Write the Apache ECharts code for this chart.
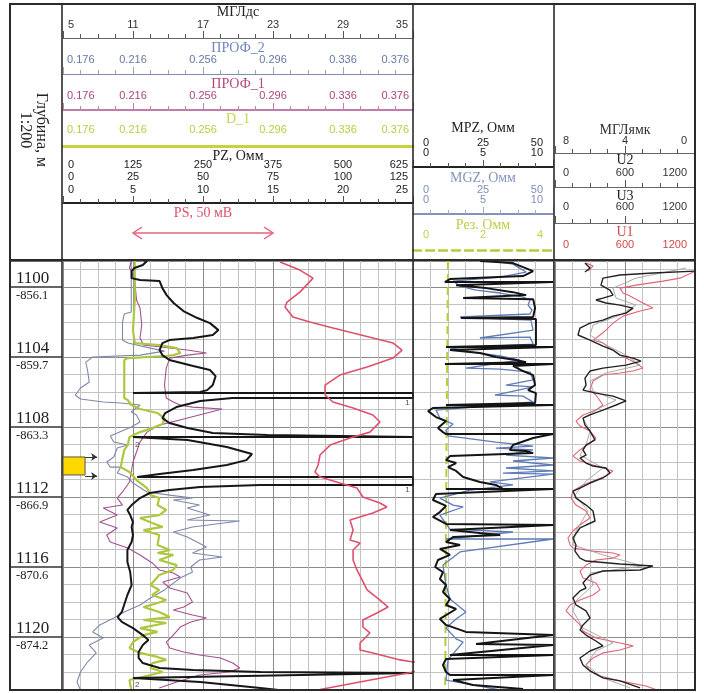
<!DOCTYPE html>
<html>
<head>
<meta charset="utf-8">
<script src="https://cdn.jsdelivr.net/npm/echarts@6/dist/echarts.min.js"></script>
<style>
html, body { margin: 0; padding: 0; background: #fff; }
#main { width: 704px; height: 693px; }
</style>
</head>
<body>
<div id="main"></div>
<script>
// глубины (м) и абсолютные отметки
var depthMin = 1098.51, depthMax = 1123.03;
var depthMarks = [1100, 1104, 1108, 1112, 1116, 1120];
var absMarks = ['-856.1', '-859.7', '-863.3', '-866.9', '-870.6', '-874.2'];

// подписи шкал в шапке
var mglLabels = ['5', '11', '17', '23', '29', '35'];
var profLabels = ['0.176', '0.216', '0.256', '0.296', '0.336', '0.376'];
var pzLabels = ['0\n0\n0', '125\n25\n5', '250\n50\n10', '375\n75\n15', '500\n100\n20', '625\n125\n25'];
var mpzLabels = ['0\n0', '25\n5', '50\n10'];
var rezLabels = ['0', '2', '4'];
var mglyLabels = ['8', '4', '0'];
var uLabels = ['0', '600', '1200'];

// интервал перфорации, м
var perfTop = 1109.71, perfBottom = 1110.74, perfArrowLow = 1110.8;
// масштабная стрелка PS, мВ
var psBarMv = [25, 75];
// номера шкал PZ
var wrapMarks = [[24.6, 1106.6, '1'], [5.3, 1109.03, '2'], [24.6, 1111.6, '1'], [5.3, 1122.74, '2']];

// PZ, Омм (шкала 0-25) [значение, глубина]
var pzCurve = [[5.4,1098.4],[6.0,1098.51],[5.7,1098.74],[5.1,1098.91],[4.9,1099.09],[4.9,1099.49],[5.5,1099.6],[6.9,1099.66],[7.1,1100.06],[7.4,1100.46],[7.9,1100.91],[8.6,1101.37],[9.6,1101.77],[10.5,1102.06],[11.1,1102.46],[10.7,1102.74],[9.3,1102.91],[7.6,1103.03],[7.1,1103.2],[6.9,1103.6],[7.1,1103.89],[7.6,1104.17],[9.3,1104.51],[10.5,1104.74],[10.9,1105.09],[10.7,1105.6],[10.3,1105.89],[9.8,1106.0],[5.0,1106.06],[25,1106.06],[25,1106.34],[12.1,1106.34],[9.8,1106.51],[8.1,1106.86],[7.3,1107.2],[7.1,1107.49],[7.6,1107.77],[8.9,1108.06],[10.7,1108.34],[14.6,1108.46],[25,1108.57],[5.0,1108.57],[8.9,1108.74],[11.7,1109.14],[13.5,1109.54],[13.1,1109.89],[11.7,1110.17],[9.3,1110.46],[6.9,1110.69],[5.3,1110.86],[25,1110.86],[25,1111.31],[14.1,1111.31],[9.8,1111.43],[7.6,1111.6],[6.2,1111.77],[5.5,1112.06],[4.9,1112.46],[4.6,1112.74],[4.8,1113.03],[5.0,1113.43],[4.9,1113.71],[5.0,1114.17],[4.9,1114.57],[4.6,1115.03],[4.6,1115.71],[4.8,1116.29],[4.9,1117.03],[4.6,1117.6],[4.2,1118.57],[3.9,1118.86],[4.2,1119.14],[5.0,1119.49],[5.7,1119.89],[6.1,1120.17],[5.7,1120.46],[5.4,1120.86],[5.4,1121.2],[5.7,1121.49],[6.9,1121.77],[9.3,1121.89],[14.1,1122.0],[25,1122.06],[5.0,1122.34],[9.8,1122.57],[14.1,1122.91],[16.2,1123.1]];

// PS, мВ
var psCurve = [[77.5,1098.57],[84.6,1099.03],[89.3,1099.49],[84.6,1100.29],[80.0,1100.86],[79.3,1101.14],[82.1,1101.71],[88.2,1102.0],[96.4,1102.34],[103.6,1102.63],[110.7,1102.91],[117.9,1103.2],[121.1,1103.6],[117.9,1104.06],[108.6,1104.57],[98.9,1105.03],[93.6,1105.6],[93.6,1106.17],[96.4,1106.57],[103.6,1106.91],[110.7,1107.31],[113.2,1107.71],[109.6,1108.29],[102.5,1108.63],[95.4,1109.03],[91.8,1109.6],[91.1,1110.17],[90.0,1110.57],[91.8,1110.86],[98.9,1111.2],[105.0,1111.49],[107.1,1112.0],[113.2,1112.34],[115.7,1112.57],[110.7,1112.91],[102.5,1113.31],[103.6,1113.89],[102.5,1114.46],[106.1,1114.63],[103.6,1115.03],[103.6,1115.6],[105.0,1116.17],[106.8,1116.74],[108.6,1117.31],[113.2,1117.89],[116.1,1118.29],[112.1,1118.63],[107.1,1119.03],[107.1,1119.43],[109.6,1119.77],[106.1,1120.34],[106.1,1120.74],[110.7,1120.91],[120.4,1121.31],[132.1,1121.6],[125.0,1122.0],[91.8,1123.0]];

// D_1
var d1Curve = [[0.217,1098.51],[0.217,1100.74],[0.216,1102.46],[0.217,1103.2],[0.231,1103.31],[0.241,1103.49],[0.243,1103.77],[0.239,1103.89],[0.235,1103.94],[0.213,1104.06],[0.211,1104.17],[0.211,1106.34],[0.213,1106.46],[0.215,1106.74],[0.220,1106.97],[0.230,1107.2],[0.234,1107.49],[0.233,1107.83],[0.227,1108.06],[0.220,1108.29],[0.214,1108.57],[0.213,1109.03],[0.211,1109.31],[0.210,1109.77],[0.209,1110.29],[0.214,1110.57],[0.218,1111.03],[0.224,1111.49],[0.226,1111.89],[0.231,1112.06],[0.230,1112.46],[0.235,1112.74],[0.231,1113.03],[0.220,1113.2],[0.227,1113.49],[0.233,1113.71],[0.222,1113.89],[0.231,1114.17],[0.230,1114.74],[0.237,1115.03],[0.230,1115.2],[0.239,1115.31],[0.231,1115.6],[0.241,1115.89],[0.239,1116.17],[0.231,1116.46],[0.226,1117.03],[0.231,1117.31],[0.227,1117.6],[0.235,1117.89],[0.230,1118.06],[0.222,1118.29],[0.231,1118.57],[0.237,1118.86],[0.222,1119.03],[0.235,1119.2],[0.220,1119.49],[0.230,1119.71],[0.222,1119.89],[0.216,1120.29],[0.214,1120.63],[0.220,1120.91],[0.230,1121.14],[0.235,1121.31],[0.227,1121.49],[0.226,1121.77],[0.233,1122.0],[0.226,1122.17],[0.214,1122.46],[0.215,1123.03]];

// ПРОФ_2
var prof2Curve = [[0.215,1098.51],[0.215,1100.17],[0.215,1101.43],[0.211,1101.54],[0.210,1102.0],[0.210,1103.03],[0.213,1103.2],[0.226,1103.49],[0.234,1103.66],[0.220,1103.89],[0.193,1104.0],[0.189,1104.29],[0.190,1104.74],[0.191,1105.43],[0.186,1105.77],[0.183,1106.17],[0.186,1106.4],[0.199,1106.57],[0.209,1106.63],[0.220,1106.74],[0.215,1107.14],[0.218,1107.31],[0.220,1107.71],[0.215,1108.0],[0.207,1108.34],[0.203,1108.51],[0.205,1108.86],[0.213,1109.03],[0.207,1109.2],[0.205,1109.71],[0.201,1110.0],[0.203,1110.29],[0.209,1110.29],[0.207,1110.63],[0.213,1110.86],[0.216,1111.2],[0.224,1111.71],[0.237,1111.89],[0.250,1112.06],[0.239,1112.17],[0.254,1112.46],[0.247,1112.63],[0.260,1113.03],[0.247,1113.31],[0.277,1113.37],[0.250,1113.71],[0.239,1114.0],[0.247,1114.29],[0.258,1114.86],[0.250,1115.2],[0.267,1115.43],[0.254,1115.6],[0.249,1116.0],[0.250,1116.29],[0.243,1116.63],[0.234,1117.31],[0.226,1117.77],[0.220,1118.17],[0.211,1118.57],[0.205,1118.91],[0.197,1119.31],[0.193,1119.71],[0.199,1120.06],[0.191,1120.46],[0.195,1120.91],[0.190,1121.43],[0.186,1122.0],[0.184,1122.57],[0.186,1123.03]];

// ПРОФ_1
var prof1Curve = [[0.215,1098.51],[0.214,1098.91],[0.215,1099.09],[0.217,1099.6],[0.218,1100.74],[0.220,1101.2],[0.221,1102.17],[0.220,1102.91],[0.222,1103.31],[0.247,1103.6],[0.258,1103.77],[0.247,1103.89],[0.237,1104.06],[0.235,1104.63],[0.234,1105.6],[0.235,1106.34],[0.239,1106.57],[0.243,1106.74],[0.250,1106.86],[0.267,1106.97],[0.256,1107.26],[0.245,1107.54],[0.231,1107.89],[0.224,1108.29],[0.220,1108.86],[0.218,1109.43],[0.216,1110.0],[0.215,1110.57],[0.214,1111.14],[0.210,1111.71],[0.207,1112.06],[0.210,1112.46],[0.199,1112.63],[0.207,1113.03],[0.197,1113.43],[0.207,1113.77],[0.201,1114.17],[0.203,1114.57],[0.213,1114.91],[0.220,1115.31],[0.227,1115.77],[0.231,1116.17],[0.239,1116.34],[0.243,1116.57],[0.233,1116.86],[0.237,1117.2],[0.247,1117.49],[0.250,1118.0],[0.245,1118.29],[0.239,1118.46],[0.250,1118.74],[0.258,1118.91],[0.249,1119.14],[0.243,1119.43],[0.239,1119.89],[0.235,1120.29],[0.237,1120.63],[0.245,1120.86],[0.254,1121.03],[0.266,1121.2],[0.273,1121.49],[0.277,1121.77],[0.271,1122.0],[0.254,1122.17],[0.241,1122.57],[0.231,1122.91]];

// MPZ, Омм (шкала 0-50)
var mpzCurve = [[23.9,1098.51],[35.7,1098.63],[42.9,1099.09],[39.3,1099.37],[13.2,1099.54],[11.4,1099.71],[50,1099.71],[15.4,1099.89],[26.1,1100.06],[35.7,1100.29],[40.4,1100.46],[17.9,1100.63],[42.9,1100.69],[43.6,1101.2],[42.9,1101.71],[17.1,1101.77],[43.9,1101.83],[43.9,1103.31],[11.8,1103.43],[50,1103.43],[13.2,1103.6],[23.9,1103.77],[29.6,1104.0],[36.8,1104.17],[40.4,1104.29],[11.4,1104.4],[50,1104.4],[35.7,1104.51],[39.3,1104.8],[42.9,1105.03],[43.6,1105.6],[41.1,1105.89],[43.9,1106.06],[43.6,1106.63],[11.8,1106.74],[50,1106.74],[7.1,1106.91],[5.4,1107.09],[8.2,1107.43],[11.8,1107.66],[8.9,1108.06],[10.7,1108.29],[11.8,1108.4],[50,1108.4],[42.9,1108.63],[35.7,1109.03],[34.6,1109.31],[40.4,1109.37],[42.9,1109.49],[13.2,1109.66],[11.8,1109.89],[15.4,1110.06],[12.5,1110.29],[15.4,1110.51],[17.9,1110.86],[23.9,1111.14],[29.6,1111.31],[32.1,1111.54],[11.8,1111.54],[50,1111.54],[8.2,1111.83],[7.1,1112.17],[11.8,1112.51],[9.6,1112.86],[7.1,1113.14],[11.8,1113.54],[50,1113.6],[13.2,1113.89],[23.9,1114.06],[31.1,1114.17],[14.3,1114.29],[11.8,1114.57],[16.8,1114.74],[9.6,1114.97],[13.2,1115.31],[8.9,1115.6],[7.9,1116.0],[10.7,1116.29],[9.6,1116.69],[11.8,1117.03],[10.7,1117.43],[13.2,1117.83],[11.8,1118.17],[15.4,1118.4],[9.6,1118.97],[11.8,1119.31],[18.9,1119.71],[50,1119.89],[22.5,1120.4],[50,1120.46],[13.2,1121.03],[50,1121.03],[11.8,1121.26],[10.7,1121.6],[11.8,1122.0],[13.2,1122.17],[50,1122.17],[14.3,1122.46],[21.4,1122.74],[39.3,1122.97]];

// MGZ, Омм (шкала 0-50)
var mgzCurve = [[28.6,1098.51],[35.7,1098.69],[40.4,1099.14],[31.1,1099.43],[14.3,1099.66],[16.8,1099.94],[22.5,1100.17],[31.1,1100.34],[39.3,1100.57],[41.8,1100.74],[41.1,1101.03],[42.5,1101.31],[41.8,1101.54],[16.8,1101.71],[42.1,1101.89],[42.9,1102.46],[23.9,1102.91],[41.8,1102.86],[42.9,1103.26],[13.2,1103.49],[20.4,1103.71],[31.1,1103.94],[38.2,1104.17],[18.9,1104.63],[31.1,1104.69],[41.8,1104.86],[42.9,1105.31],[33.2,1105.6],[42.9,1105.71],[29.3,1106.17],[39.3,1106.23],[42.9,1106.57],[8.2,1107.03],[9.6,1107.49],[14.3,1107.83],[11.8,1108.17],[12.5,1108.51],[29.6,1108.86],[42.9,1109.09],[29.6,1109.2],[42.9,1109.31],[33.2,1109.6],[50,1109.77],[35.7,1109.94],[50,1110.17],[33.2,1110.34],[50,1110.51],[32.1,1110.63],[50,1110.69],[27.5,1111.14],[35.7,1111.31],[20.4,1111.6],[9.6,1112.06],[14.3,1112.46],[17.9,1112.57],[9.6,1113.03],[13.2,1113.83],[35.7,1114.0],[11.8,1114.4],[50,1114.4],[16.8,1115.14],[10.7,1115.89],[11.8,1117.03],[13.2,1117.83],[18.9,1118.57],[15.4,1118.97],[11.8,1119.49],[15.4,1120.11],[17.9,1120.29],[12.5,1121.31],[11.8,1122.46],[21.4,1122.74],[31.1,1123.03]];

// Рез., Омм
var rezCurve = [[1.0,1098.51],[0.97,1106.0],[0.94,1114.0],[0.92,1123.03]];

// U2, U1, U3 (0-1200)
var u2Top = [[257,1098.63],[300,1098.91],[257,1099.14]];
var u1Top = [[266,1098.63],[326,1098.8],[283,1099.09]];
var u2Curve = [[1200,1099.09],[840,1099.2],[557,1099.31],[411,1099.49],[394,1099.89],[471,1100.17],[497,1100.46],[411,1100.63],[351,1100.74],[437,1100.91],[557,1101.03],[669,1101.2],[609,1101.49],[497,1101.66],[411,1101.89],[300,1102.06],[214,1102.34],[197,1102.74],[300,1103.03],[411,1103.37],[497,1103.6],[557,1103.89],[669,1104.06],[737,1104.23],[609,1104.46],[411,1104.63],[300,1104.8],[257,1105.2],[266,1105.6],[240,1105.89],[351,1106.06],[497,1106.23],[609,1106.51],[523,1106.74],[411,1107.03],[300,1107.31],[240,1107.49],[257,1107.89],[300,1108.23],[343,1108.74],[266,1109.03],[240,1109.31],[266,1109.6],[214,1109.77],[266,1110.06],[326,1110.23],[437,1110.34],[471,1110.63],[411,1110.91],[300,1111.2],[214,1111.49],[154,1111.66],[180,1112.06],[266,1112.46],[326,1112.8],[343,1113.37],[266,1113.6],[214,1113.77],[154,1114.34],[180,1114.74],[171,1115.09],[214,1115.49],[266,1115.66],[557,1115.83],[840,1115.94],[729,1116.17],[411,1116.23],[300,1116.46],[240,1116.91],[266,1117.2],[214,1117.37],[154,1117.77],[180,1118.17],[266,1118.51],[300,1118.91],[240,1119.31],[214,1119.6],[266,1119.89],[351,1120.23],[411,1120.51],[300,1120.8],[214,1121.2],[240,1121.6],[300,1121.94],[411,1122.34],[557,1122.51],[729,1122.91]];
var u1Curve = [[1200,1099.09],[1071,1099.49],[926,1099.66],[694,1099.89],[557,1100.06],[583,1100.34],[643,1100.51],[754,1100.91],[840,1101.2],[729,1101.37],[583,1101.66],[497,1102.06],[437,1102.46],[386,1102.74],[326,1103.03],[411,1103.2],[471,1103.49],[557,1103.89],[609,1104.06],[694,1104.34],[754,1104.63],[669,1104.8],[557,1104.91],[411,1105.03],[326,1105.37],[300,1105.89],[351,1106.17],[411,1106.74],[351,1107.03],[240,1107.31],[180,1107.66],[214,1107.94],[300,1108.23],[351,1108.63],[300,1108.91],[214,1109.31],[154,1109.66],[214,1109.94],[326,1110.17],[497,1110.51],[437,1110.8],[351,1111.03],[240,1111.31],[154,1111.66],[137,1112.06],[180,1112.46],[266,1112.8],[300,1113.2],[214,1113.6],[154,1113.94],[111,1114.34],[129,1114.74],[154,1114.91],[326,1115.09],[497,1115.2],[557,1115.31],[497,1115.49],[351,1115.6],[266,1115.89],[214,1116.23],[240,1116.63],[351,1116.91],[386,1117.31],[326,1117.6],[214,1117.89],[129,1118.17],[94,1118.51],[154,1118.91],[214,1119.31],[240,1119.66],[351,1120.06],[557,1120.34],[669,1120.51],[557,1120.74],[411,1120.91],[326,1121.2],[266,1121.6],[300,1121.94],[386,1122.23],[557,1122.51],[780,1122.8],[900,1123.09]];
var u3Curve = [[1123,1098.91],[694,1099.49],[497,1100.06],[523,1100.63],[694,1101.03],[557,1101.6],[326,1102.17],[300,1102.74],[437,1103.31],[609,1103.89],[729,1104.46],[437,1104.91],[300,1105.37],[326,1105.94],[523,1106.46],[386,1106.91],[240,1107.49],[300,1108.23],[266,1109.03],[214,1109.6],[411,1110.34],[266,1111.09],[171,1111.89],[283,1112.8],[180,1113.94],[154,1114.74],[411,1115.31],[754,1115.94],[300,1116.34],[326,1117.03],[180,1117.94],[154,1118.51],[240,1119.49],[497,1120.34],[351,1120.8],[266,1121.6],[411,1122.34],[643,1122.91]];

var fontSans = '"Liberation Sans", Arial, sans-serif';
var fontSerif = '"Liberation Serif", "Times New Roman", serif';

var T = 261, H = 429;
var TR1 = { left: 63, width: 350 };
var TR2 = { left: 413, width: 140 };
var TR3 = { left: 555, width: 140 };

var grid = [], xAxis = [], yAxis = [], series = [];
function addGrid(g) { grid.push(g); return grid.length - 1; }
function addX(o) { xAxis.push(o); return xAxis.length - 1; }
function addY(o) { yAxis.push(o); return yAxis.length - 1; }
function hiddenX(g, min, max) { return { gridIndex: g, type: 'value', min: min, max: max, show: false }; }

// колонка глубин
var gD = addGrid({ left: 10, top: T, width: 52, height: H });
addX(hiddenX(gD, 0, 1));
addY({
    gridIndex: gD, type: 'value', inverse: true, min: depthMin, max: depthMax, minInterval: 4, maxInterval: 4,
    axisLine: { show: false }, axisTick: { show: false },
    splitLine: { show: true, lineStyle: { color: '#333', width: 1.5 } },
    axisLabel: {
        inside: true, margin: 6, align: 'left',
        formatter: function (v) {
            for (var i = 0; i < depthMarks.length; i++) {
                if (Math.abs(v - depthMarks[i]) < 0.01) return '{md|' + depthMarks[i] + '}\n{ab|' + absMarks[i] + '}';
            }
            return '';
        },
        rich: {
            md: { fontFamily: fontSerif, fontSize: 17, lineHeight: 17, color: '#222' },
            ab: { fontFamily: fontSerif, fontSize: 12.5, lineHeight: 17, color: '#222' }
        }
    }
});

// дорожка с сеткой
function dataTrack(tr, nDiv) {
    var g = addGrid({ left: tr.left, top: T, width: tr.width, height: H });
    var noAxis = { axisLine: { show: false }, axisTick: { show: false }, axisLabel: { show: false } };
    var xa = addX(Object.assign({ gridIndex: g, type: 'value', min: 0, max: nDiv, interval: 1,
        splitLine: { show: true, lineStyle: { color: '#c2c2c2', width: 1 } } }, noAxis));
    addX(Object.assign({ gridIndex: g, type: 'value', min: 0, max: nDiv, interval: 4,
        splitLine: { show: true, lineStyle: { color: '#8a8a8a', width: 1 } } }, noAxis));
    var ya = addY(Object.assign({ gridIndex: g, type: 'value', inverse: true, min: depthMin, max: depthMax, minInterval: 1, maxInterval: 1,
        splitLine: { show: true, lineStyle: { color: '#c2c2c2', width: 1 } } }, noAxis));
    addY(Object.assign({ gridIndex: g, type: 'value', inverse: true, min: depthMin, max: depthMax, minInterval: 4, maxInterval: 4,
        splitLine: { show: true, lineStyle: { color: '#8a8a8a', width: 1 } } }, noAxis));
    return { g: g, xa: xa, ya: ya };
}

function curve(data, xi, yi, color, width, extra) {
    var s = { type: 'line', data: data, xAxisIndex: xi, yAxisIndex: yi, symbol: 'none', silent: true, z: 3,
        lineStyle: { color: color, width: width } };
    series.push(Object.assign(s, extra || {}));
}

// шкала в шапке
function headerScale(tr, lineY, labels, o) {
    var g = addGrid({ left: tr.left, width: tr.width, top: lineY - 10, height: 10 });
    addY({ gridIndex: g, type: 'value', min: 0, max: 1, show: false });
    var tc = o.tickColor || '#555';
    var last = labels.length - 1;
    var inset = o.inset || 0;
    addX({
        gridIndex: g, type: 'value', position: 'bottom', min: 0, max: last, interval: 1,
        axisLine: { show: o.line !== false, lineStyle: { color: o.lineColor || '#555', width: o.lineWidth || 1, type: o.lineType || 'solid' } },
        axisTick: { show: o.ticks !== false, inside: true, length: 7, lineStyle: { color: tc } },
        minorTick: { show: o.ticks !== false, splitNumber: 4, length: 4, lineStyle: { color: tc } },
        splitLine: { show: false },
        axisLabel: {
            inside: true, margin: o.margin || 7, color: o.labelColor || '#222',
            fontFamily: fontSans, fontSize: 11, lineHeight: o.lh || 12,
            alignMinLabel: 'left', alignMaxLabel: 'right', showMinLabel: true, showMaxLabel: true,
            formatter: function (v) {
                var i = Math.round(v);
                var parts = (labels[i] || '').split('\n');
                var st = i === 0 ? 'l' : (i === last ? 'r' : 'c');
                return parts.map(function (p) { return '{' + st + '|' + p + '}'; }).join('\n');
            },
            rich: {
                l: { padding: [0, 0, 0, inset], lineHeight: o.lh || 12 },
                r: { padding: [0, inset, 0, 0], lineHeight: o.lh || 12 },
                c: { lineHeight: o.lh || 12 }
            }
        }
    });
}

// дорожка 1
var t1 = dataTrack(TR1, 20);
var x1pz = addX(hiddenX(t1.g, 0, 25));
var x1ps = addX(hiddenX(t1.g, 0, 125));
var x1prof = addX(hiddenX(t1.g, 0.176, 0.376));

curve(prof2Curve, x1prof, t1.ya, '#7e88aa', 1.1);
curve(prof1Curve, x1prof, t1.ya, '#a5508e', 1.1);
curve(d1Curve, x1prof, t1.ya, '#acc83c', 2.2);
curve(pzCurve, x1pz, t1.ya, '#161616', 2);
curve(psCurve, x1ps, t1.ya, '#e0506c', 1.6, { clip: false });

series.push({
    type: 'line', xAxisIndex: t1.xa, yAxisIndex: t1.ya, data: [[0, perfTop]], symbol: 'none', silent: true, z: 6,
    markArea: { silent: true, itemStyle: { color: '#ffd800', borderColor: '#555', borderWidth: 1 },
        data: [[{ coord: [0, perfTop] }, { coord: [1.26, perfBottom] }]] },
    markLine: { silent: true, symbol: ['none', 'arrow'], symbolSize: 6, label: { show: false },
        lineStyle: { color: '#333', width: 1, type: 'solid' },
        data: [[{ coord: [1.26, perfTop] }, { coord: [1.95, perfTop] }],
               [{ coord: [1.26, perfArrowLow] }, { coord: [1.95, perfArrowLow] }]] }
});

series.push({
    type: 'scatter', xAxisIndex: x1pz, yAxisIndex: t1.ya, symbolSize: 1, silent: true, z: 6,
    itemStyle: { color: 'rgba(0,0,0,0)' },
    data: wrapMarks.map(function (m) { return { name: m[2], value: [m[0], m[1]] }; }),
    label: { show: true, position: 'inside', formatter: '{b}', fontSize: 8, color: '#222', fontFamily: fontSans }
});

// дорожка 2
var t2 = dataTrack(TR2, 8);
var x2mpz = addX(hiddenX(t2.g, 0, 50));
var x2rez = addX(hiddenX(t2.g, 0, 4));
curve(rezCurve, x2rez, t2.ya, '#b5cf3a', 2, { lineStyle: { color: '#b5cf3a', width: 2, type: [8, 5] } });
curve(mgzCurve, x2mpz, t2.ya, '#5d7cb8', 1.3);
curve(mpzCurve, x2mpz, t2.ya, '#141414', 2);

// дорожка 3
var t3 = dataTrack(TR3, 8);
var x3u = addX(hiddenX(t3.g, 0, 1200));
curve(u1Curve, x3u, t3.ya, '#e26474', 1.1);
curve(u1Top, x3u, t3.ya, '#e26474', 1.1);
curve(u3Curve, x3u, t3.ya, '#a0a0a0', 0.9);
curve(u2Curve, x3u, t3.ya, '#222', 1.4);
curve(u2Top, x3u, t3.ya, '#222', 1.4);

// шапка
headerScale(TR1, 38, mglLabels, { lineColor: '#666', labelColor: '#333', margin: 7, inset: 5 });
headerScale(TR1, 74, profLabels, { lineColor: '#7f8db0', labelColor: '#6577a3', tickColor: '#9aa4c0', margin: 8, inset: 4 });
headerScale(TR1, 110, profLabels, { lineColor: '#b0508c', labelColor: '#a8467c', tickColor: '#c080a8', lineWidth: 1.5, margin: 8, inset: 4 });
headerScale(TR1, 146, profLabels, { lineColor: '#c4d43a', labelColor: '#bccb45', lineWidth: 3, ticks: false, margin: 10, inset: 4 });
headerScale(TR1, 203, pzLabels, { lineColor: '#222', lineWidth: 2, labelColor: '#222', margin: 7, lh: 12.5, inset: 5 });
headerScale(TR2, 167, mpzLabels, { lineColor: '#222', lineWidth: 2, labelColor: '#222', margin: 9, lh: 10, inset: 10 });
headerScale(TR2, 214, mpzLabels, { lineColor: '#5b70a8', lineWidth: 1.5, labelColor: '#7d8fb6', tickColor: '#a0aac8', margin: 9, lh: 10, inset: 10 });
headerScale(TR2, 250, rezLabels, { lineColor: '#b8cc3a', lineWidth: 2.5, lineType: [8, 5], labelColor: '#c0d050', ticks: false, margin: 9, inset: 10 });
headerScale(TR3, 153, mglyLabels, { lineColor: '#666', labelColor: '#333', margin: 6, inset: 8 });
headerScale(TR3, 187, uLabels, { lineColor: '#666', labelColor: '#333', margin: 8, inset: 8 });
headerScale(TR3, 223, uLabels, { lineColor: '#666', labelColor: '#333', margin: 10, inset: 8 });
headerScale(TR3, 259, uLabels, { line: false, ticks: false, labelColor: '#d04848', margin: 8, inset: 8 });

var chart = echarts.init(document.getElementById('main'));
chart.setOption({
    animation: false,
    backgroundColor: '#fff',
    textStyle: { fontFamily: fontSans },
    grid: grid, xAxis: xAxis, yAxis: yAxis, series: series
});

function txt(x, y, t, color, size) {
    return { type: 'text', x: x, y: y, z: 20, silent: true,
        style: { text: t, fill: color, fontSize: size || 14, fontFamily: fontSerif, align: 'center', verticalAlign: 'middle' } };
}
function ln(x1, y1, x2, y2, w, color) {
    return { type: 'line', z: 20, silent: true, shape: { x1: x1, y1: y1, x2: x2, y2: y2 },
        style: { stroke: color || '#2a2a2a', lineWidth: w } };
}

var psA = chart.convertToPixel({ xAxisIndex: x1ps }, psBarMv[0]);
var psB = chart.convertToPixel({ xAxisIndex: x1ps }, psBarMv[1]);
var psY = 233, pink = '#e2647e';

var graphic = [
    { type: 'rect', z: 20, silent: true, shape: { x: 10, y: 4, width: 685, height: 686 }, style: { fill: 'none', stroke: '#2a2a2a', lineWidth: 2 } },
    ln(62, 4, 62, 690, 1.6), ln(413, 4, 413, 690, 1.6), ln(554, 4, 554, 690, 1.6), ln(10, 260, 695, 260, 2),
    { type: 'text', x: 33, y: 130, rotation: -Math.PI / 2, z: 20, silent: true,
      style: { text: 'Глубина, м\n1:200', fill: '#222', fontSize: 16, lineHeight: 16, fontFamily: fontSerif, align: 'center', verticalAlign: 'middle' } },
    txt(238, 12, 'МГЛдс', '#222'),
    txt(238, 48, 'ПРОФ_2', '#6d84bd'),
    txt(238, 84, 'ПРОФ_1', '#b3487a'),
    txt(238, 119, 'D_1', '#c6d64a'),
    txt(238, 156, 'PZ, Омм', '#222'),
    txt(203, 213, 'PS, 50 мВ', '#e0506e'),
    txt(483, 128, 'MPZ, Омм', '#222'),
    txt(483, 178, 'MGZ, Омм', '#8494bb'),
    txt(483, 225, 'Рез. Омм', '#bccd48'),
    txt(625, 130, 'МГЛямк', '#333'),
    txt(625, 160, 'U2', '#222'),
    txt(625, 196, 'U3', '#222'),
    txt(625, 232, 'U1', '#d04848'),
    ln(psA, psY, psB, psY, 1.5, pink),
    { type: 'polyline', z: 20, silent: true, shape: { points: [[psA + 9, psY - 6], [psA, psY], [psA + 9, psY + 6]] }, style: { stroke: pink, lineWidth: 1.5, fill: 'none' } },
    { type: 'polyline', z: 20, silent: true, shape: { points: [[psB - 9, psY - 6], [psB, psY], [psB - 9, psY + 6]] }, style: { stroke: pink, lineWidth: 1.5, fill: 'none' } }
];
chart.setOption({ graphic: graphic });
</script>
</body>
</html>
